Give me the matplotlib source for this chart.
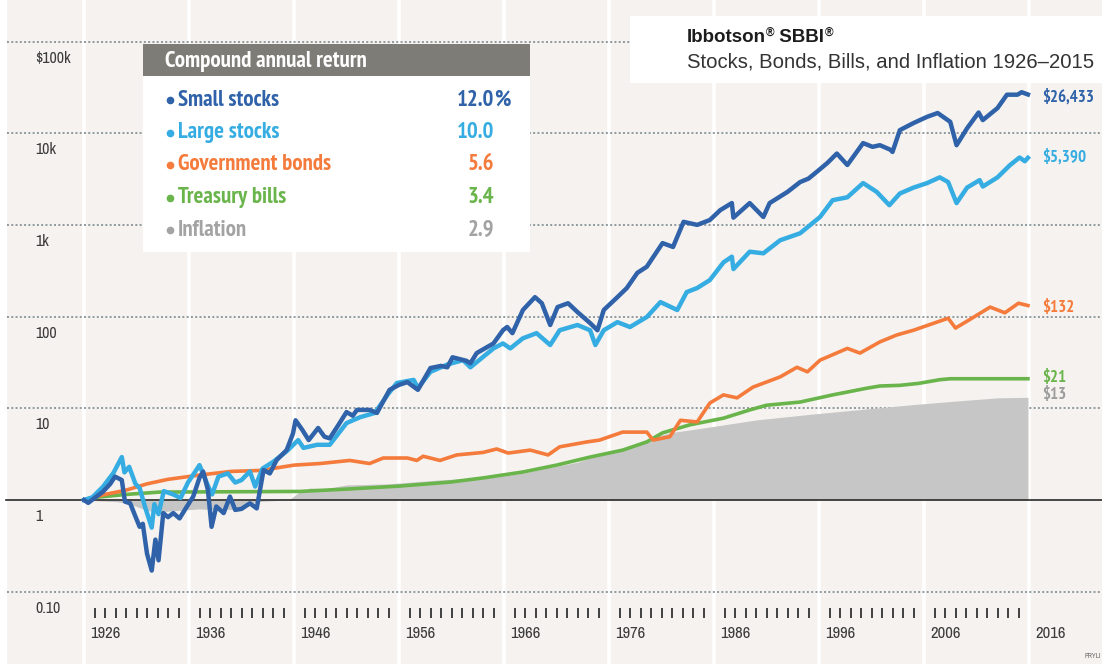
import os
import matplotlib
matplotlib.use('Agg')
import matplotlib.pyplot as plt
from matplotlib import font_manager
from matplotlib.font_manager import FontProperties
from matplotlib.patches import Rectangle
from matplotlib.textpath import TextPath

# Growth of $1 (year, value)
small_t = [1926.0, 1926.4, 1927.0, 1927.8, 1928.5, 1928.95, 1929.6, 1929.9, 1930.4, 1930.9,
           1931.3, 1931.6, 1932.0, 1932.45, 1932.8, 1933.1, 1933.55, 1934.0, 1934.5, 1935.1,
           1935.8, 1936.4, 1937.0, 1937.35, 1937.8, 1938.15, 1938.6, 1939.3, 1939.9, 1940.4,
           1941.0, 1941.8, 1942.45, 1943.1, 1943.7, 1944.35, 1945.3, 1945.9, 1946.15, 1946.8,
           1947.4, 1948.3, 1948.9, 1949.4, 1950.2, 1951.0, 1951.6, 1952.0, 1953.2, 1953.9,
           1955.1, 1956.0, 1956.8, 1957.8, 1959.0, 1960.0, 1960.6, 1961.1, 1962.4, 1962.8,
           1963.4, 1965.0, 1965.9, 1966.3, 1966.8, 1967.8, 1968.95, 1969.6, 1970.4, 1971.1,
           1972.1, 1973.0, 1974.2, 1974.9, 1975.5, 1976.8, 1977.7, 1978.7, 1979.6, 1981.1,
           1982.1, 1983.1, 1984.4, 1985.6, 1986.6, 1987.7, 1987.85, 1989.4, 1990.7, 1991.3,
           1993.0, 1994.2, 1995.0, 1995.8, 1996.8, 1997.7, 1998.7, 2000.2, 2001.1, 2001.8,
           2002.8, 2003.0, 2003.7, 2005.0, 2006.3, 2007.3, 2008.5, 2009.1, 2010.1, 2011.2,
           2011.6, 2013.0, 2013.9, 2014.9, 2015.3, 2015.9]
small_v = [1.0, 0.93, 1.05, 1.23, 1.50, 1.80, 1.65, 0.96, 0.92, 0.66,
           0.51, 0.55, 0.26, 0.17, 0.37, 0.22, 0.72, 0.65, 0.72, 0.63,
           0.85, 1.09, 1.75, 2.04, 1.29, 0.51, 0.85, 0.72, 1.09, 0.78,
           0.80, 0.92, 0.81, 2.12, 1.95, 2.73, 3.5, 5.3, 7.4, 5.8,
           4.5, 6.1, 4.9, 4.7, 6.5, 9.1, 8.3, 9.6, 9.6, 8.9,
           15.9, 18.0, 19.3, 15.9, 27.5, 29, 28, 36, 33, 31,
           40, 51, 71, 77, 66, 118, 163, 140, 81, 127,
           140, 112, 85, 71, 118, 163, 205, 300, 350, 633,
           575, 1080, 1000, 1130, 1450, 1730, 1200, 1730, 1220, 1730,
           2290, 2930, 3200, 3800, 4740, 6000, 4500, 7800, 7100, 7400,
           6600, 6250, 10800, 12900, 15100, 16600, 13300, 7400, 11300, 16800,
           13900, 18800, 26300, 26300, 28000, 26433]

large_t = [1926.0, 1926.8, 1927.8, 1928.8, 1929.6, 1929.85, 1930.3, 1930.9, 1931.3, 1931.8,
           1932.45, 1932.7, 1933.1, 1933.6, 1934.5, 1935.2, 1935.9, 1937.0, 1937.9, 1938.2,
           1938.8, 1939.7, 1940.4, 1941.0, 1941.8, 1942.3, 1943.0, 1944.0, 1945.3, 1946.4,
           1946.9, 1948.2, 1949.4, 1951.0, 1952.3, 1953.7, 1954.9, 1955.8, 1957.4, 1957.8,
           1959.0, 1960.6, 1962.1, 1962.8, 1965.0, 1965.9, 1966.6, 1967.8, 1969.1, 1970.4,
           1971.3, 1973.0, 1974.2, 1974.7, 1975.5, 1976.8, 1978.0, 1979.6, 1980.9, 1982.5,
           1983.4, 1984.4, 1985.6, 1986.9, 1987.7, 1987.85, 1989.4, 1990.7, 1992.3, 1994.2,
           1996.1, 1997.3, 1998.7, 2000.2, 2001.5, 2002.7, 2003.7, 2005.0, 2006.3, 2007.5,
           2008.3, 2009.1, 2010.1, 2011.3, 2011.6, 2013.0, 2014.2, 2015.1, 2015.6, 2015.9]
large_v = [1.0, 1.07, 1.39, 1.97, 2.94, 2.0, 2.3, 1.5, 1.35, 0.85,
           0.50, 0.90, 0.70, 1.25, 1.15, 1.05, 1.55, 2.40, 1.35, 1.15,
           1.80, 1.95, 1.55, 1.65, 2.05, 1.40, 2.2, 2.6, 3.4, 4.5,
           3.7, 4.0, 4.0, 6.9, 8.0, 8.9, 14, 18.9, 20.4, 16.6,
           25, 30, 33.5, 28, 45, 51, 45, 58, 66, 49,
           71, 81, 71, 49, 71, 87, 77, 99, 144, 118,
           185, 205, 250, 390, 450, 330, 510, 490, 680, 810,
           1220, 1860, 2000, 2860, 2290, 1640, 2200, 2550, 2860, 3300,
           2930, 1730, 2550, 3080, 2620, 3300, 4500, 5430, 4950, 5390]

bonds_t = [1926.0, 1928.0, 1930.0, 1932.0, 1934.0, 1937.0, 1940.0, 1942.8, 1946.0, 1948.5,
           1951.3, 1953.2, 1954.5, 1956.8, 1957.7, 1958.3, 1959.9, 1961.5, 1964.0, 1965.3,
           1966.4, 1968.5, 1970.2, 1971.3, 1973.9, 1975.1, 1977.3, 1979.6, 1980.2, 1981.8,
           1982.8, 1984.4, 1985.6, 1986.9, 1988.2, 1989.7, 1992.3, 1993.9, 1994.9, 1996.1,
           1998.7, 1999.9, 2001.8, 2003.4, 2005.0, 2008.3, 2009.0, 2010.3, 2012.3, 2013.7,
           2015.0, 2015.9]
bonds_v = [1.0, 1.15, 1.28, 1.50, 1.68, 1.87, 2.05, 2.1, 2.4, 2.5,
           2.7, 2.5, 2.87, 2.87, 2.7, 3.0, 2.7, 3.1, 3.3, 3.6,
           3.25, 3.5, 3.1, 3.8, 4.3, 4.5, 5.5, 5.5, 4.5, 4.9,
           7.4, 7.1, 11.4, 14, 13, 17, 22, 28, 25, 33.5,
           45, 40, 53, 63, 71, 96, 75, 92, 127, 110,
           140, 132]

bills_t = [1926.0, 1927.5, 1930.0, 1933.2, 1940.0, 1946.6, 1951.3, 1956.1, 1960.9, 1964.0,
           1967.8, 1971.0, 1974.2, 1977.3, 1979.6, 1981.1, 1983.7, 1986.9, 1989.4, 1991.0,
           1994.2, 1997.3, 2000.6, 2001.8, 2003.7, 2005.5, 2007.5, 2008.5, 2015.9]
bills_v = [1.0, 1.08, 1.15, 1.22, 1.23, 1.24, 1.32, 1.42, 1.57, 1.74,
           2.02, 2.4, 2.94, 3.5, 4.3, 5.4, 6.6, 7.8, 9.6, 10.8,
           11.7, 14, 16.6, 17.5, 17.8, 18.7, 20.5, 21, 21]

infl_t = [1926.0, 1927.0, 1929.0, 1930.0, 1931.0, 1932.0, 1933.0, 1935.0, 1937.0, 1938.0,
          1940.0, 1941.0, 1942.0, 1943.0, 1945.5, 1946.5, 1947.5, 1949.0, 1951.0, 1955.0,
          1960.0, 1965.0, 1968.0, 1970.0, 1973.0, 1975.0, 1978.0, 1980.0, 1982.0, 1985.0,
          1990.0, 1995.0, 2000.0, 2005.0, 2008.0, 2010.0, 2013.0, 2015.9]
infl_v = [1.0, 0.985, 0.96, 0.93, 0.85, 0.77, 0.74, 0.77, 0.80, 0.79,
          0.79, 0.84, 0.93, 0.97, 1.0, 1.22, 1.35, 1.33, 1.46, 1.50,
          1.66, 1.77, 1.98, 2.22, 2.58, 3.10, 3.78, 4.81, 5.45, 6.10,
          7.46, 8.56, 9.71, 10.98, 11.73, 12.23, 13.0, 13.18]

names = ['Small stocks', 'Large stocks', 'Government bonds', 'Treasury bills', 'Inflation']
cagr = ['12.0', '10.0', '5.6', '3.4', '2.9']
end_labels = ['$26,433', '$5,390', '$132', '$21', '$13']
colors = ['#2f62a9', '#36ade2', '#f47b3b', '#6ab44c', '#a3a3a3']

decades = list(range(1926, 2017, 10))
gridvals = [0.1, 10, 100, 1000, 10000, 100000]
gridlabels = ['0.10', '10', '100', '1k', '10k', '$100k']

W, H = 1102, 664
BG = '#f5f2ef'
ttf = {f.name for f in font_manager.fontManager.ttflist}
SANS = 'Liberation Sans' if 'Liberation Sans' in ttf else 'DejaVu Sans'


def find_condensed(bold):
    # look for an installed condensed / narrow face, else None
    best = None
    for f in font_manager.fontManager.ttflist:
        base = os.path.basename(f.fname).lower()
        nm = f.name.lower()
        st = str(f.stretch).lower()
        cond = ('condensed' in st and 'extra' not in st and 'ultra' not in st) \
            or 'narrow' in nm or ('condensed' in base and 'extra' not in base)
        if not cond or f.style != 'normal':
            continue
        w = f.weight if isinstance(f.weight, (int, float)) else (700 if 'bold' in str(f.weight) else 400)
        if bold and w < 600:
            continue
        if not bold and (w >= 600 or w < 350):
            continue
        rank = 0 if 'narrow' in nm else (1 if 'roboto' in nm else 2)
        if best is None or rank < best[0]:
            best = (rank, f.fname)
    return best[1] if best else None


COND_R = find_condensed(False)
COND_B = find_condensed(True)


def fp(bold=False, size=10):
    path = COND_B if bold else COND_R
    if path:
        return FontProperties(fname=path, size=size)
    return FontProperties(family=SANS, weight='bold' if bold else 'normal', size=size)


def fit(s, bold, target_px, max_pt):
    # font size giving the reference text width, no larger than max_pt
    w = TextPath((0, 0), s, prop=fp(bold, 10)).get_extents().width
    size = 10 * (target_px * 72 / 100) / w
    return fp(bold, min(size, max_pt))


def fx(px):
    return px / W


def fy(py):
    return 1 - py / H


fig = plt.figure(figsize=(W / 100, H / 100), dpi=100)
fig.patch.set_facecolor(BG)
ax = fig.add_axes([0, 0, 1, 1])
ax.set_facecolor(BG)
for s in ax.spines.values():
    s.set_visible(False)
ax.set_yscale('log')
ax.set_xticks([])
ax.set_yticks([])
ax.minorticks_off()
# pixel 84 = 1926, 10.5 px per year; 91.7 px per decade, value 1 at pixel 500
ax.set_xlim(1926 - 84 / 10.5, 1926 + (W - 84) / 10.5)
ax.set_ylim(10 ** (-(H - 500) / 91.7), 10 ** (500 / 91.7))

ax.add_patch(Rectangle((0, 0), fx(6), 1, transform=ax.transAxes, color='white', zorder=0.4))
for d in decades:
    ax.axvline(d, color='white', lw=2.6, zorder=0.5)
for v in gridvals:
    ax.axhline(v, xmin=fx(7), color='#8e999e', lw=1.4, ls=(0, (1, 1.2)), zorder=1)
ax.axhline(1, xmin=fx(6), color='#2a2a2a', lw=1.2, zorder=2.5)

ax.fill_between(infl_t, 1, infl_v, color='#c6c6c6', lw=0, zorder=2)
ax.plot(bills_t, bills_v, color=colors[3], lw=2.6, zorder=3, solid_joinstyle='round')
ax.plot(bonds_t, bonds_v, color=colors[2], lw=2.6, zorder=3.2, solid_joinstyle='round')
ax.plot(large_t, large_v, color=colors[1], lw=3.2, zorder=3.4, solid_joinstyle='round')
ax.plot(small_t, small_v, color=colors[0], lw=3.2, zorder=3.6, solid_joinstyle='round')

# y labels under each grid line
f_axis = fit('$100k', False, 40, 11.5)
for v, lab in zip(gridvals + [1], gridlabels + ['1']):
    ax.annotate(lab, xy=(fx(35), v), xycoords=('axes fraction', 'data'),
                xytext=(0, -12), textcoords='offset points', va='center', ha='left',
                fontproperties=f_axis, color='#3c3c3c')

# year ticks and labels
xt = ax.get_xaxis_transform()
yrs = [y for y in range(1927, 2016) if (y - 1926) % 10 != 0]
ax.vlines(yrs, fy(618), fy(608), transform=xt, color='#333333', lw=1.3, zorder=2)
f_year = fit('1926', False, 32, 12)
for d in decades:
    ax.text(d + 6 / 10.5, fy(634), str(d), transform=xt, ha='left', va='center',
            fontproperties=f_year, color='#3c3c3c')

# end-value labels
f_end = fit('$26,433', True, 50, 12.5)
ends = [(small_t[-1], small_v[-1], 3), (large_t[-1], large_v[-1], 0),
        (bonds_t[-1], bonds_v[-1], 2), (bills_t[-1], bills_v[-1], -1),
        (infl_t[-1], infl_v[-1], -2)]
for (t, v, dy), lab, c in zip(ends, end_labels, colors):
    ax.annotate(lab, xy=(t, v), xytext=(10, -dy * 0.72), textcoords='offset points',
                ha='left', va='center', fontproperties=f_end,
                color=c if c != colors[4] else '#9c9c9c', zorder=6)

# legend box
ax.add_patch(Rectangle((fx(143), fy(252)), fx(530) - fx(143), fy(44) - fy(252),
                       transform=ax.transAxes, facecolor='white', edgecolor='none', zorder=8))
ax.add_patch(Rectangle((fx(143), fy(76)), fx(530) - fx(143), fy(44) - fy(76),
                       transform=ax.transAxes, facecolor='#7d7c77', edgecolor='none', zorder=9))
ax.text(fx(165), fy(61), 'Compound annual return', transform=ax.transAxes, ha='left',
        va='center', fontproperties=fit('Compound annual return', True, 223, 16.5),
        color='white', zorder=10)
f_leg = fit('Small stocks', True, 116, 16.5)
for i, (n, r, c) in enumerate(zip(names, cagr, colors)):
    yy = fy(100 + 32.5 * i)
    ax.plot([fx(170)], [yy], 'o', ms=4.5, color=c, transform=ax.transAxes, zorder=10)
    ax.text(fx(178), yy, n, transform=ax.transAxes, ha='left', va='center',
            fontproperties=f_leg, color=c, zorder=10)
    ax.text(fx(494), yy, r, transform=ax.transAxes, ha='right', va='center',
            fontproperties=f_leg, color=c, zorder=10)
    if i == 0:
        ax.text(fx(494), yy, '%', transform=ax.transAxes, ha='left', va='center',
                fontproperties=f_leg, color=c, zorder=10)

# title box
ax.add_patch(Rectangle((fx(630), fy(83)), 1 - fx(630), fy(16) - fy(83),
                       transform=ax.transAxes, facecolor='white', edgecolor='none', zorder=8))
renderer = fig.canvas.get_renderer()
x0 = fx(687)
for s, size, up in [('Ibbotson', 13.5, 0), ('®', 8.5, 5), (' SBBI', 13.5, 0), ('®', 8.5, 5)]:
    t = ax.text(x0, fy(38) + up / H, s, transform=ax.transAxes, ha='left', va='center',
                fontsize=size, fontweight='bold', family=SANS, color='#1c1c1c', zorder=10)
    x0 += t.get_window_extent(renderer=renderer).width / W
ax.text(fx(687), fy(62), 'Stocks, Bonds, Bills, and Inflation 1926\u20132015',
        transform=ax.transAxes, ha='left', va='center', fontsize=14.6, family=SANS,
        color='#333333', zorder=10)

ax.text(fx(1101), fy(656), 'PRYLI', transform=ax.transAxes, ha='right', va='center',
        fontproperties=fp(False, 5), color='#666666')

fig.savefig('out.png', dpi=100, facecolor=BG)
